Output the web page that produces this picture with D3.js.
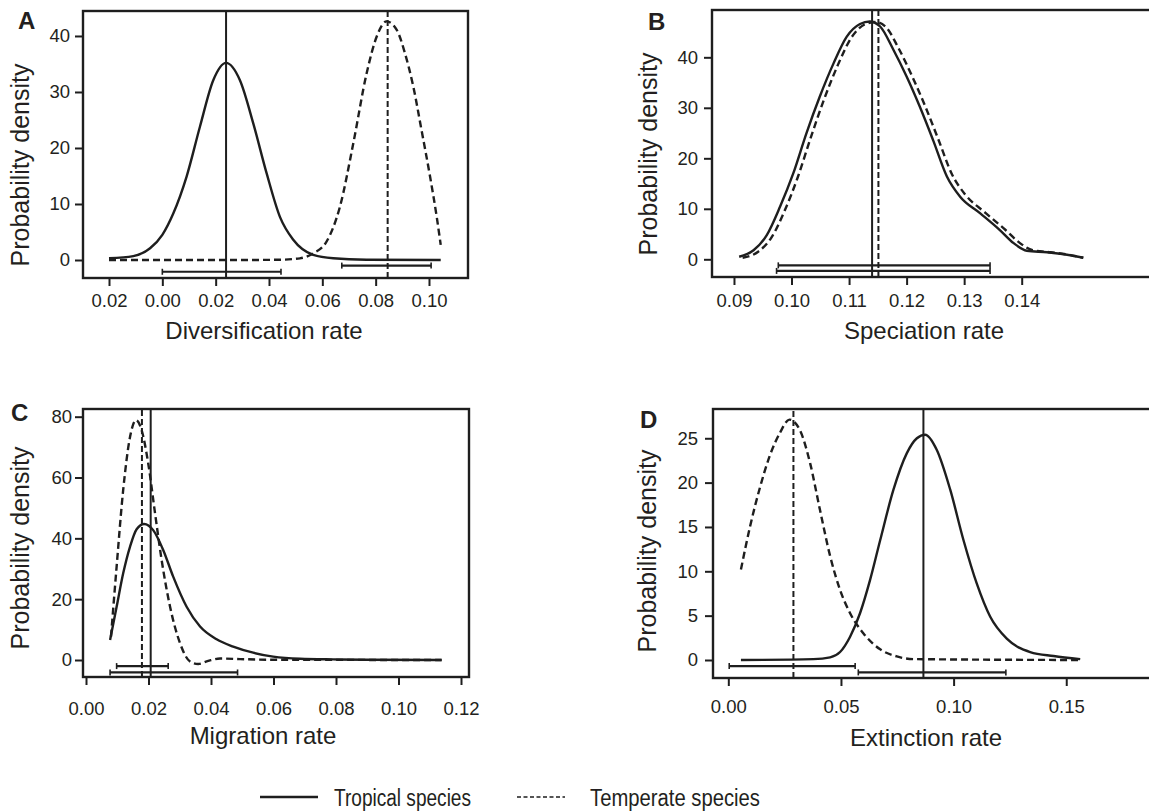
<!DOCTYPE html>
<html>
<head>
<meta charset="utf-8">
<script src="https://cdn.jsdelivr.net/npm/d3@7"></script>
<style>
  body { margin: 0; background: #fff; }
  svg { display: block; }
  text { font-family: "Liberation Sans", Arial, Helvetica, sans-serif; fill: #231f20; }
</style>
</head>
<body>
<svg id="chart" width="1149" height="812"></svg>
<script>
// ---- values ----
// A: diversification rate
const diversTropical = [[-0.02,0.3],[-0.0109,0.7],[-0.0046,2.1],[0.0,4.5],[0.0041,8.3],[0.0091,14.9],[0.0141,23.8],[0.0191,32.1],[0.0239,35.2],[0.0291,32.1],[0.0341,24.4],[0.0391,15.5],[0.0441,7.7],[0.0491,3.6],[0.0566,0.9],[0.0641,0.3],[0.0766,0.05],[0.1044,0]];
const diversTemperate = [[-0.02,0],[0.03,0],[0.044,0.05],[0.0516,0.3],[0.0566,1.2],[0.0616,3.3],[0.0666,9.5],[0.0716,20.8],[0.0766,33.3],[0.0804,39.9],[0.0841,42.6],[0.0879,41.1],[0.091,36.9],[0.0941,31.0],[0.0972,23.2],[0.1004,14.9],[0.1029,7.7],[0.1044,2.7]];
const diversMeans = [0.0239, 0.0845];              // tropical, temperate
const diversCI = [[0.0, 0.0445, -2.1], [0.0673, 0.1008, -1.0]];  // lo, hi, level

// B: speciation rate
const specTropical = [[0.0909,0.5],[0.0934,1.8],[0.0957,4.8],[0.098,10.4],[0.1003,17.0],[0.1026,25.0],[0.1049,32.2],[0.1073,38.8],[0.1096,44.1],[0.1119,46.6],[0.1136,47.1],[0.1154,46.1],[0.1177,41.5],[0.12,36.2],[0.1223,30.2],[0.1246,23.6],[0.127,16.4],[0.1293,12.4],[0.1328,9.1],[0.1362,5.8],[0.1386,3.2],[0.1409,1.7],[0.1444,1.4],[0.1479,0.9],[0.1507,0.3]];
const specTemperate = [[0.0915,0.3],[0.0942,1.5],[0.0965,4.3],[0.0988,9.6],[0.1011,16.3],[0.1034,24.3],[0.1057,31.8],[0.1081,38.6],[0.1104,43.9],[0.1127,46.5],[0.1146,47.0],[0.1164,46.0],[0.1186,41.8],[0.1209,36.4],[0.1232,30.4],[0.1255,23.8],[0.1279,16.8],[0.1302,12.8],[0.1337,9.2],[0.1372,5.8],[0.1396,3.3],[0.1419,1.8],[0.145,1.4],[0.1482,0.9],[0.1507,0.3]];
const specMeans = [0.1140, 0.1151];
const specCI = [[0.0974, 0.1345, -2.3], [0.0977, 0.1345, -1.2]];

// C: migration rate
const migTropical = [[0.0077,6.6],[0.0098,17.5],[0.0119,28.5],[0.0141,37.3],[0.0162,43.0],[0.0186,44.7],[0.0215,42.7],[0.0247,36.2],[0.0279,27.4],[0.0322,17.5],[0.0365,11.0],[0.0418,6.8],[0.0471,4.4],[0.0535,2.4],[0.0599,1.1],[0.0685,0.4],[0.0791,0.2],[0.0898,0.1],[0.1138,0]];
const migTemperate = [[0.008,7.7],[0.0098,30.7],[0.0119,55.9],[0.0141,73.4],[0.016,78.9],[0.0178,75.6],[0.0199,64.7],[0.0221,48.2],[0.0242,32.9],[0.0269,17.5],[0.0301,5.5],[0.0333,-0.5],[0.0359,-1.3],[0.0391,-0.3],[0.0429,0.5],[0.0493,0.3],[0.0578,0.1],[0.1138,0]];
const migMeans = [0.0207, 0.0179];
const migCI = [[0.0077, 0.0485, -4.1], [0.0098, 0.0263, -2.0]];

// D: extinction rate
const extTropical = [[0.0056,0],[0.0378,0.1],[0.0452,0.3],[0.0496,0.9],[0.054,2.6],[0.0585,5.3],[0.0629,9.0],[0.0674,13.5],[0.0733,19.2],[0.0792,23.3],[0.0837,25.0],[0.0874,25.4],[0.0925,23.7],[0.0985,19.2],[0.1044,13.5],[0.1103,8.6],[0.1162,4.9],[0.1236,2.4],[0.134,0.9],[0.1444,0.45],[0.1562,0.1]];
const extTemperate = [[0.0056,10.2],[0.0096,15.0],[0.0141,19.5],[0.0185,23.1],[0.0229,25.6],[0.0271,27.1],[0.0318,25.9],[0.0363,22.2],[0.0407,16.9],[0.0452,11.7],[0.0496,7.9],[0.054,5.3],[0.06,3.0],[0.0674,1.2],[0.0748,0.4],[0.0822,0.1],[0.1562,0]];
const extMeans = [0.0866, 0.0289];
const extCI = [[0.0577, 0.1232, -1.4], [0.0004, 0.0563, -0.68]];

// tick values and labels
const diversTicks = [-0.02, 0, 0.02, 0.04, 0.06, 0.08, 0.10];
const diversTickLabels = ["0.02", "0.00", "0.02", "0.04", "0.06", "0.08", "0.10"];
const specTicks = [0.09, 0.10, 0.11, 0.12, 0.13, 0.14];
const migTicks = [0, 0.02, 0.04, 0.06, 0.08, 0.10, 0.12];
const extTicks = [0, 0.05, 0.10, 0.15];
const yTicksA = [0, 10, 20, 30, 40];
const yTicksB = [0, 10, 20, 30, 40];
const yTicksC = [0, 20, 40, 60, 80];
const yTicksD = [0, 5, 10, 15, 20, 25];

const seriesNames = ["Tropical species", "Temperate species"];

// ---- layout ----
const ink = "#1e1e1e";
const svg = d3.select("#chart");

const panels = [
  { letter: "A", box: { l: 83, r: 468, t: 11, b: 278 }, xDom: [-0.02975, 0.11463], yDom: [-3.214, 44.46],
    tropical: diversTropical, temperate: diversTemperate, means: diversMeans, ci: diversCI,
    xTicks: diversTicks, xFmt: (d, i) => diversTickLabels[i], yTicks: yTicksA, xTitle: "Diversification rate",
    xPad: 8, yPad: 5, letterPos: [18, 29], yTitlePos: [29, 165], xTitlePos: [264, 339] },
  { letter: "B", box: { l: 712, r: 1151, t: 10, b: 277 }, xDom: [0.08618, 0.16247], yDom: [-3.505, 49.37],
    tropical: specTropical, temperate: specTemperate, means: specMeans, ci: specCI,
    xTicks: specTicks, xFmt: d3.format(".2f"), yTicks: yTicksB, xTitle: "Speciation rate",
    xPad: 9, yPad: 6, letterPos: [648, 30], yTitlePos: [657, 154], xTitlePos: [924, 339] },
  { letter: "C", box: { l: 83, r: 469, t: 409, b: 677 }, xDom: [-0.00096, 0.12256], yDom: [-5.59, 82.53],
    tropical: migTropical, temperate: migTemperate, means: migMeans, ci: migCI,
    xTicks: migTicks, xFmt: d3.format(".2f"), yTicks: yTicksC, xTitle: "Migration rate",
    xPad: 17, yPad: 3, letterPos: [11, 421], yTitlePos: [29, 548], xTitlePos: [263, 744] },
  { letter: "D", box: { l: 713, r: 1151, t: 409, b: 678 }, xDom: [-0.0068, 0.18762], yDom: [-2.03, 28.30],
    tropical: extTropical, temperate: extTemperate, means: extMeans, ci: extCI,
    xTicks: extTicks, xFmt: d3.format(".2f"), yTicks: yTicksD, xTitle: "Extinction rate",
    xPad: 14, yPad: 7, letterPos: [640, 428], yTitlePos: [656, 551], xTitlePos: [926, 746] }
];

panels.forEach(p => {
  const x = d3.scaleLinear().domain(p.xDom).range([p.box.l, p.box.r]);
  const y = d3.scaleLinear().domain(p.yDom).range([p.box.b, p.box.t]);
  const g = svg.append("g");

  // axes
  const xa = g.append("g")
    .attr("transform", `translate(0,${p.box.b + 1})`)
    .call(d3.axisBottom(x).tickValues(p.xTicks).tickFormat(p.xFmt).tickSize(7).tickPadding(p.xPad));
  const ya = g.append("g")
    .attr("transform", `translate(${p.box.l - 1},0)`)
    .call(d3.axisLeft(y).tickValues(p.yTicks).tickSize(7).tickPadding(p.yPad));
  [xa, ya].forEach(a => {
    a.select(".domain").remove();
    a.selectAll("line").attr("stroke", ink).attr("stroke-width", 2);
    a.selectAll("text").attr("font-size", 18.5).attr("fill", "#231f20")
      .attr("font-family", "'Liberation Sans', Arial, sans-serif");
  });

  // curves
  const line = d3.line().x(d => x(d[0])).y(d => y(d[1])).curve(d3.curveMonotoneX);
  g.append("path").datum(p.tropical).attr("d", line)
    .attr("fill", "none").attr("stroke", ink).attr("stroke-width", 2.4);
  g.append("path").datum(p.temperate).attr("d", line)
    .attr("fill", "none").attr("stroke", ink).attr("stroke-width", 2.4).attr("stroke-dasharray", "7,4");

  // mean lines
  p.means.forEach((m, i) => {
    g.append("line")
      .attr("x1", x(m)).attr("x2", x(m)).attr("y1", y(p.yDom[0])).attr("y2", y(p.yDom[1]))
      .attr("stroke", ink).attr("stroke-width", 2)
      .attr("stroke-dasharray", i === 1 ? "6,3" : null);
  });

  // intervals
  p.ci.forEach(c => {
    const yy = y(c[2]);
    g.append("line").attr("x1", x(c[0])).attr("x2", x(c[1])).attr("y1", yy).attr("y2", yy)
      .attr("stroke", ink).attr("stroke-width", 2.2);
    [c[0], c[1]].forEach(v => {
      g.append("line").attr("x1", x(v)).attr("x2", x(v)).attr("y1", yy - 3).attr("y2", yy + 3)
        .attr("stroke", ink).attr("stroke-width", 1.6);
    });
  });

  // frame
  g.append("rect")
    .attr("x", x(p.xDom[0])).attr("y", y(p.yDom[1]))
    .attr("width", x(p.xDom[1]) - x(p.xDom[0])).attr("height", y(p.yDom[0]) - y(p.yDom[1]))
    .attr("fill", "none").attr("stroke", ink).attr("stroke-width", 2.4);

  // titles
  g.append("text").text(p.letter)
    .attr("x", p.letterPos[0]).attr("y", p.letterPos[1])
    .attr("font-size", 24).attr("font-weight", "bold");
  g.append("text").text("Probability density")
    .attr("transform", `translate(${p.yTitlePos[0]},${p.yTitlePos[1]}) rotate(-90)`)
    .attr("text-anchor", "middle").attr("font-size", 25);
  g.append("text").text(p.xTitle)
    .attr("x", p.xTitlePos[0]).attr("y", p.xTitlePos[1])
    .attr("text-anchor", "middle").attr("font-size", 24);
});

// legend
const legend = svg.append("g").attr("transform", "translate(260,797)");
legend.append("line").attr("x1", 0).attr("x2", 58).attr("stroke", ink).attr("stroke-width", 2.6);
legend.append("text").text(seriesNames[0]).attr("x", 74).attr("y", 9)
  .attr("font-size", 23).attr("textLength", 137).attr("lengthAdjust", "spacingAndGlyphs");
legend.append("line").attr("x1", 257).attr("x2", 305).attr("stroke", ink).attr("stroke-width", 1.6)
  .attr("stroke-dasharray", "4,2.5");
legend.append("text").text(seriesNames[1]).attr("x", 330).attr("y", 9)
  .attr("font-size", 23).attr("textLength", 170).attr("lengthAdjust", "spacingAndGlyphs");
</script>
</body>
</html>
